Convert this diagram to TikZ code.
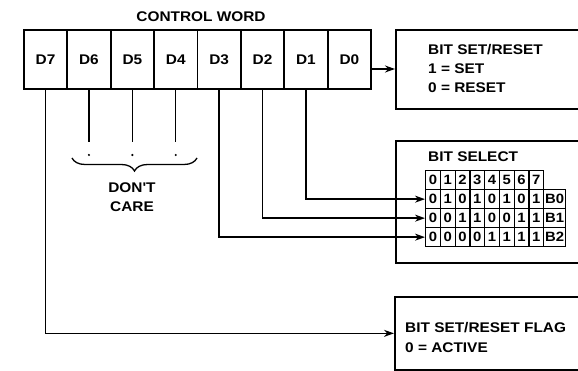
\documentclass[tikz,border=0pt]{standalone}
\usepackage{fontspec}
\newfontfamily\lab{Liberation Sans}[FakeStretch=1.1]
\usetikzlibrary{arrows.meta,decorations.pathreplacing}
\begin{document}
\begin{tikzpicture}[x=1pt,y=-1pt,
  font=\lab\bfseries\fontsize{14}{16}\selectfont,
  box/.style={draw, line width=1.7pt, anchor=north west, inner sep=0pt},
  cell/.style={draw, line width=1.7pt, minimum width=43.4pt, minimum height=59pt, inner sep=0pt, anchor=north west},
  tcell/.style={draw, line width=1.3pt, minimum width=14.75pt, minimum height=19pt, inner sep=0pt, anchor=north west, font=\lab\bfseries\fontsize{13.5}{13.5}\selectfont},
  bcell/.style={tcell, minimum width=22pt},
  arr/.style={-{Stealth[length=10pt,width=7pt]}, line width=1.6pt},
  lbl/.style={anchor=base west, inner sep=0pt},
  ctr/.style={anchor=base, inner sep=0pt},
  thinline/.style={line width=1.3pt},
]
\useasboundingbox (0,0) rectangle (578,371);

% control word
\node[ctr] (cw) at (201,22) {CONTROL WORD};
\foreach \n [count=\i from 0] in {7,6,5,4,3,2,1,0}
  \node[cell] (d\n) at ({23+43.4*\i},29) {D\n};

% right boxes
\node[box, minimum width=200pt, minimum height=79pt] (setreset) at (395,29) {};
\node[box, minimum width=200pt, minimum height=122pt] (bitsel) at (395,140) {};
\node[box, minimum width=200pt, minimum height=73pt] (flag) at (394,296) {};

\node[lbl] (t1) at (428,55) {BIT SET/RESET};
\node[lbl] (t2) at (428,74) {1 = SET};
\node[lbl] (t3) at (428,93) {0 = RESET};
\node[lbl] (t4) at (428,162) {BIT SELECT};
\node[lbl] (t5) at (405,332) {BIT SET/RESET FLAG};
\node[lbl] (t6) at (405,352) {0 = ACTIVE};

% table
\foreach \c in {0,...,7}
  \node[tcell] (h\c) at ({425+14.75*\c},170) {\c};
\foreach \v [count=\c from 0] in {0,1,0,1,0,1,0,1}
  \node[tcell] (ra\c) at ({425+14.75*\c},189) {\v};
\foreach \v [count=\c from 0] in {0,0,1,1,0,0,1,1}
  \node[tcell] (rb\c) at ({425+14.75*\c},208) {\v};
\foreach \v [count=\c from 0] in {0,0,0,0,1,1,1,1}
  \node[tcell] (rc\c) at ({425+14.75*\c},227) {\v};
\node[bcell] (ba) at (543,189) {B0};
\node[bcell] (bb) at (543,208) {B1};
\node[bcell] (bc) at (543,227) {B2};

% don't care
\coordinate (ylow) at (0,142);
\coordinate (ytick) at (0,155);
\foreach \n in {6,5,4} {
  \draw[thinline] (d\n.south) -- (d\n.south |- ylow);
  \fill (d\n.south |- ytick) circle (1.2pt);
}
\coordinate (bl) at (72,158);
\coordinate (br) at (197,158);
\draw[thinline, decorate, decoration={brace, mirror, amplitude=13pt}] (bl) -- (br);
\node[ctr] (dc1) at (132,193) {DON'T};
\node[ctr] (dc2) at (132,212) {CARE};

% connectors
\coordinate (y69) at (0,69);
\draw[arr] (d0.east |- y69) -- (setreset.west |- y69);
\draw[arr] (d1.south) -- (d1.south |- ra0.west) -- (ra0.west);
\draw[arr] (d2.south) -- (d2.south |- rb0.west) -- (rb0.west);
\draw[arr] (d3.south) -- (d3.south |- rc0.west) -- (rc0.west);
\draw[arr] (d7.south) -- (d7.south |- flag.west) -- (flag.west);
\end{tikzpicture}
\end{document}
